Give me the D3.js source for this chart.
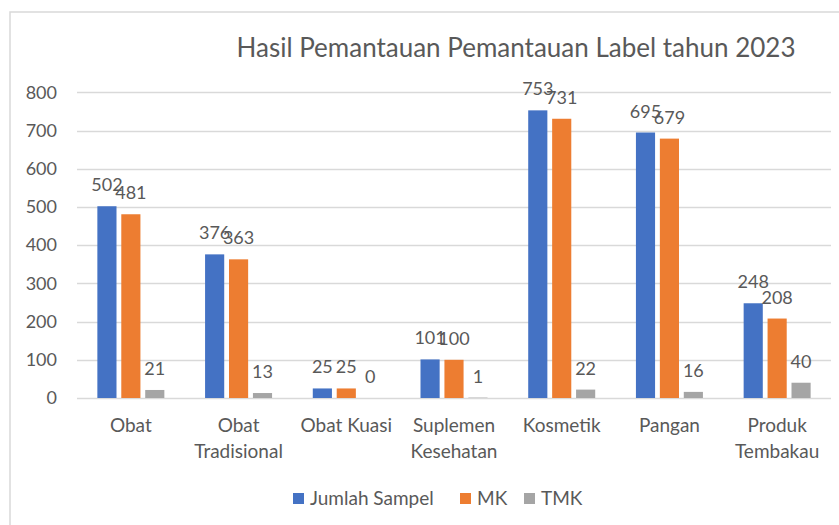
<!DOCTYPE html>
<html>
<head>
<meta charset="utf-8">
<script src="https://cdn.jsdelivr.net/npm/d3@7"></script>
<style>
  html, body { margin: 0; padding: 0; background: #ffffff; }
  svg { display: block; font-family: Lato, "Open Sans", sans-serif; }
</style>
</head>
<body>
<svg id="chart" width="839" height="525"></svg>
<script>
// Hasil pemantauan label per kategori produk, 2023
const categories = ["Obat", "Obat Tradisional", "Obat Kuasi", "Suplemen Kesehatan", "Kosmetik", "Pangan", "Produk Tembakau"];
const seriesNames = ["Jumlah Sampel", "MK", "TMK"];
const jumlahSampel = [502, 376, 25, 101, 753, 695, 248];
const mk = [481, 363, 25, 100, 731, 679, 208];
const tmk = [21, 13, 0, 1, 22, 16, 40];
const yTicks = [0, 100, 200, 300, 400, 500, 600, 700, 800];
const titleText = "Hasil Pemantauan Pemantauan Label tahun 2023";

const seriesValues = [jumlahSampel, mk, tmk];
const colors = ["#4472C4", "#ED7D31", "#A5A5A5"];
const textColor = "#595959";
const gridColor = "#D9D9D9";

const svg = d3.select("#chart");

// chart frame
svg.append("rect")
  .attr("x", 10).attr("y", 12)
  .attr("width", 900).attr("height", 600)
  .attr("fill", "none")
  .attr("stroke", gridColor)
  .attr("stroke-width", 1.5);

const plot = { left: 77, right: 831, top: 92.4, bottom: 398 };

const x0 = d3.scaleBand()
  .domain(categories)
  .range([plot.left, plot.right])
  .paddingInner(0.378)
  .paddingOuter(0.189);

const x1 = d3.scaleBand()
  .domain(seriesNames)
  .range([0, x0.bandwidth()])
  .paddingInner(0.2);

const y = d3.scaleLinear()
  .domain([0, 800])
  .range([plot.bottom, plot.top]);

// title
svg.append("text")
  .attr("x", 516).attr("y", 57)
  .attr("text-anchor", "middle")
  .attr("fill", textColor)
  .attr("font-size", 26)
  .text(titleText);

// gridlines
svg.append("g")
  .selectAll("line")
  .data(yTicks)
  .join("line")
  .attr("x1", plot.left).attr("x2", plot.right)
  .attr("y1", d => Math.round(y(d)) + 0.5)
  .attr("y2", d => Math.round(y(d)) + 0.5)
  .attr("stroke", gridColor)
  .attr("stroke-width", 1.5);

// y axis labels
const yAxis = svg.append("g")
  .attr("transform", `translate(57,0)`)
  .call(d3.axisLeft(y).tickValues(yTicks).tickSize(0).tickPadding(0).tickFormat(d3.format("d")));
yAxis.select(".domain").remove();
yAxis.selectAll("text")
  .attr("fill", textColor)
  .attr("font-size", 18)
  .attr("font-family", "Lato, 'Open Sans', sans-serif");

// bars
const groups = svg.append("g")
  .selectAll("g")
  .data(categories)
  .join("g")
  .attr("transform", d => `translate(${x0(d)},0)`);

const cells = groups.selectAll("g")
  .data((d, i) => seriesNames.map((s, j) => ({ series: s, value: seriesValues[j][i], color: colors[j] })))
  .join("g");

cells.append("rect")
  .attr("x", d => x1(d.series))
  .attr("width", x1.bandwidth())
  .attr("y", d => y(d.value))
  .attr("height", d => y(0) - y(d.value))
  .attr("fill", d => d.color);

cells.append("text")
  .attr("x", d => x1(d.series) + x1.bandwidth() / 2)
  .attr("y", d => y(d.value) - 15)
  .attr("text-anchor", "middle")
  .attr("fill", textColor)
  .attr("font-size", 18)
  .text(d => d.value);

// category labels, wrapped to the band width
const catG = svg.append("g");
categories.forEach(cat => {
  const cx = x0(cat) + x0.bandwidth() / 2;
  const t = catG.append("text")
    .attr("x", cx)
    .attr("y", 432)
    .attr("text-anchor", "middle")
    .attr("fill", textColor)
    .attr("font-size", 19);
  const words = cat.split(" ");
  let line = [];
  let tspan = t.append("tspan").attr("x", cx).attr("dy", 0);
  words.forEach(w => {
    line.push(w);
    tspan.text(line.join(" "));
    if (tspan.node().getComputedTextLength() > 104 && line.length > 1) {
      line.pop();
      tspan.text(line.join(" "));
      line = [w];
      tspan = t.append("tspan").attr("x", cx).attr("dy", 26).text(w);
    }
  });
});

// legend
const legendX = [293, 460, 524];
const legend = svg.append("g");
seriesNames.forEach((s, i) => {
  legend.append("rect")
    .attr("x", legendX[i]).attr("y", 493)
    .attr("width", 11).attr("height", 11)
    .attr("fill", colors[i]);
  legend.append("text")
    .attr("x", legendX[i] + 17).attr("y", 505)
    .attr("fill", textColor)
    .attr("font-size", 19)
    .text(s);
});
</script>
</body>
</html>
